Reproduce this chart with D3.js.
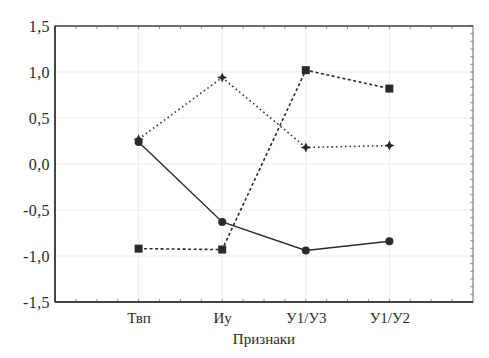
<!DOCTYPE html>
<html><head><meta charset="utf-8">
<script src="https://cdn.jsdelivr.net/npm/d3@7"></script>
<style>body{margin:0;background:#fff}svg{display:block}svg text{font-family:"Liberation Serif","Times New Roman",serif !important;fill:#2a2a2a}</style>
</head><body><svg id="c" width="489" height="358"></svg>
<script>
const categories = ["Твп", "Иу", "У1/У3", "У1/У2"];
const circleSeries = [0.24, -0.63, -0.94, -0.84];
const starSeries = [0.27, 0.94, 0.18, 0.20];
const squareSeries = [-0.92, -0.93, 1.02, 0.82];
const yTicks = [1.5, 1.0, 0.5, 0.0, -0.5, -1.0, -1.5];
const xTitle = "Признаки";

const svg = d3.select("#c");
const L = 55, R = 473, T = 26, B = 302;
const x = d3.scaleLinear().domain([0, categories.length + 1]).range([L, R]);
const y = d3.scaleLinear().domain([-1.5, 1.5]).range([B, T]);
const fmt = v => d3.format(".1f")(v).replace(".", ",").replace("−", "-");
const serif = "'Liberation Serif', 'Times New Roman', serif";

// grid
const g = svg.append("g");
g.selectAll(".hg").data(yTicks).join("line")
  .attr("x1", L).attr("x2", R).attr("y1", d => y(d)).attr("y2", d => y(d))
  .attr("stroke", "#ebebeb").attr("stroke-width", 1);
g.selectAll(".vg").data(categories).join("line")
  .attr("x1", (d, i) => x(i + 1)).attr("x2", (d, i) => x(i + 1)).attr("y1", T).attr("y2", B)
  .attr("stroke", "#ebebeb").attr("stroke-width", 1);

// minor ticks
const xMinor = d3.range(0.25, categories.length + 1, 0.25);
g.selectAll(".xmb").data(xMinor).join("line")
  .attr("x1", d => x(d)).attr("x2", d => x(d)).attr("y1", B).attr("y2", B - 3)
  .attr("stroke", "#777").attr("stroke-width", 0.8);
g.selectAll(".xmt").data(xMinor).join("line")
  .attr("x1", d => x(d)).attr("x2", d => x(d)).attr("y1", T).attr("y2", T + 3)
  .attr("stroke", "#777").attr("stroke-width", 0.8);
const yMinor = d3.range(-1.5, 1.5001, 0.5 / 6);
g.selectAll(".ymr").data(yMinor).join("line")
  .attr("x1", R).attr("x2", R - 3).attr("y1", d => y(d)).attr("y2", d => y(d))
  .attr("stroke", "#777").attr("stroke-width", 0.8);

// frame
svg.append("rect").attr("x", L).attr("y", T).attr("width", R - L).attr("height", B - T)
  .attr("fill", "none").attr("stroke", "#666").attr("stroke-width", 1);
svg.append("line").attr("x1", L).attr("x2", L).attr("y1", T).attr("y2", B).attr("stroke", "#222").attr("stroke-width", 1.5);
svg.append("line").attr("x1", L).attr("x2", R).attr("y1", B).attr("y2", B).attr("stroke", "#222").attr("stroke-width", 1.5);
svg.append("line").attr("x1", L).attr("x2", R).attr("y1", T).attr("y2", T).attr("stroke", "#333").attr("stroke-width", 1.2);

// y axis labels
const yAxis = d3.axisLeft(y).tickValues(yTicks).tickFormat(fmt).tickSize(0).tickPadding(5);
const ya = svg.append("g").attr("transform", `translate(${L},0)`).call(yAxis)
  .attr("font-family", serif).attr("font-size", 16);
ya.select(".domain").remove();
ya.selectAll("text").attr("fill", "#2a2a2a").attr("dy", "0.36em").attr("letter-spacing", "0.4px");

// x axis labels
const xAxis = d3.axisBottom(x).tickValues(d3.range(1, categories.length + 1)).tickFormat(d => categories[d - 1]).tickSize(0).tickPadding(10);
const xa = svg.append("g").attr("transform", `translate(0,${B})`).call(xAxis)
  .attr("font-family", serif).attr("font-size", 15);
xa.select(".domain").remove();
xa.selectAll("text").attr("fill", "#2a2a2a");

svg.append("text").attr("x", (x(2) + x(3)) / 2).attr("y", 344).attr("text-anchor", "middle")
  .attr("font-family", serif).attr("font-size", 15).text(xTitle);

const line = d3.line().x((d, i) => x(i + 1)).y(d => y(d));
const col = "#2a2a2a";
svg.append("path").attr("d", line(squareSeries)).attr("fill", "none").attr("stroke", col).attr("stroke-width", 1.6).attr("stroke-dasharray", "3,2.5");
svg.append("path").attr("d", line(starSeries)).attr("fill", "none").attr("stroke", col).attr("stroke-width", 1.6).attr("stroke-dasharray", "1.5,3");
svg.append("path").attr("d", line(circleSeries)).attr("fill", "none").attr("stroke", col).attr("stroke-width", 1.4);

svg.selectAll(".sq").data(squareSeries).join("rect")
  .attr("x", (d, i) => x(i + 1) - 4).attr("y", d => y(d) - 4).attr("width", 8).attr("height", 8).attr("fill", col);
const star = "M0,-5 L1.6,-1.6 L5,0 L1.6,1.6 L0,5 L-1.6,1.6 L-5,0 L-1.6,-1.6 Z";
svg.selectAll(".st").data(starSeries).join("path")
  .attr("transform", (d, i) => `translate(${x(i + 1)},${y(d)})`)
  .attr("d", star).attr("fill", col);
svg.selectAll(".ci").data(circleSeries).join("circle")
  .attr("cx", (d, i) => x(i + 1)).attr("cy", d => y(d)).attr("r", 4).attr("fill", col);
</script></body></html>
